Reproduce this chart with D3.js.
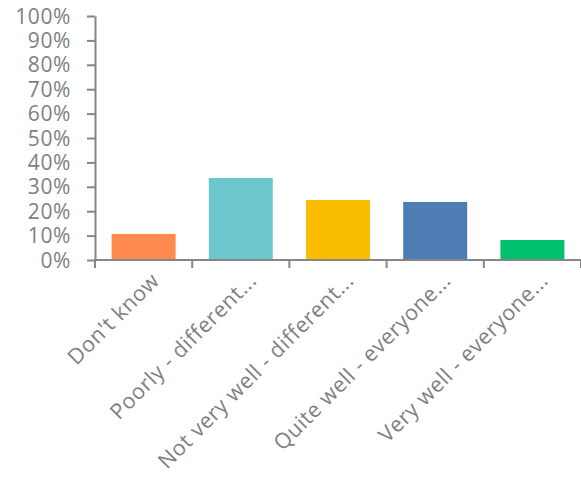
<!DOCTYPE html>
<html>
<head>
<meta charset="utf-8">
<script src="https://cdn.jsdelivr.net/npm/d3@7"></script>
<style>
  html, body { margin: 0; padding: 0; background: #ffffff; }
  svg { display: block; }
  .axis text { font-family: "Open Sans", sans-serif; fill: #7f7f7f; }
</style>
</head>
<body>
<svg id="chart" width="581" height="477"></svg>
<script>
const categories = [
  "Don't know",
  "Poorly - different...",
  "Not very well - different...",
  "Quite well - everyone...",
  "Very well - everyone..."
];
const values = [0.107, 0.336, 0.246, 0.238, 0.082];
const colors = ["#FF8B4F", "#6CC8CC", "#F9BE00", "#4E7CB4", "#00BF6F"];
const yTicks = [0, 0.1, 0.2, 0.3, 0.4, 0.5, 0.6, 0.7, 0.8, 0.9, 1.0];

const svg = d3.select("#chart");
const x0 = 95, x1 = 581, yTop = 16, yBottom = 260;

const x = d3.scaleBand().domain(categories).range([x0, x1])
  .paddingInner(0.342).paddingOuter(0.171);
const y = d3.scaleLinear().domain([0, 1]).range([yBottom, yTop]);

// bars
svg.append("g").selectAll("rect").data(categories).join("rect")
  .attr("x", d => x(d))
  .attr("width", x.bandwidth())
  .attr("y", (d, i) => y(values[i]))
  .attr("height", (d, i) => y(0) - y(values[i]))
  .attr("fill", (d, i) => colors[i]);

// y axis
const yAxis = svg.append("g").attr("class", "axis")
  .attr("transform", `translate(${x0},0)`)
  .call(d3.axisLeft(y).tickValues(yTicks).tickFormat(d3.format(".0%"))
    .tickSize(8).tickPadding(16).tickSizeOuter(0));
yAxis.selectAll("line, path").attr("stroke", "#868686").attr("stroke-width", 2);
yAxis.selectAll("text").attr("font-size", 21).attr("letter-spacing", "0.6px").attr("dy", "0.34em");

// x axis: ticks at category boundaries
const step = x.step();
const boundaries = d3.range(categories.length + 1).map(i => x0 + i * step);
const xAxis = svg.append("g").attr("class", "axis");
xAxis.append("line")
  .attr("x1", x0 - 1).attr("x2", x1)
  .attr("y1", yBottom).attr("y2", yBottom)
  .attr("stroke", "#868686").attr("stroke-width", 2);
xAxis.selectAll("line.tick").data(boundaries).join("line")
  .attr("class", "tick")
  .attr("x1", d => d).attr("x2", d => d)
  .attr("y1", yBottom).attr("y2", yBottom + 8)
  .attr("stroke", "#868686").attr("stroke-width", 2);

xAxis.selectAll("text").data(categories).join("text")
  .attr("transform", d => `translate(${x(d) + x.bandwidth() / 2 + 17},${yBottom + 22}) rotate(-45)`)
  .attr("text-anchor", "end")
  .attr("font-size", 21.5)
  .attr("letter-spacing", "0.5px")
  .text(d => d);
</script>
</body>
</html>
